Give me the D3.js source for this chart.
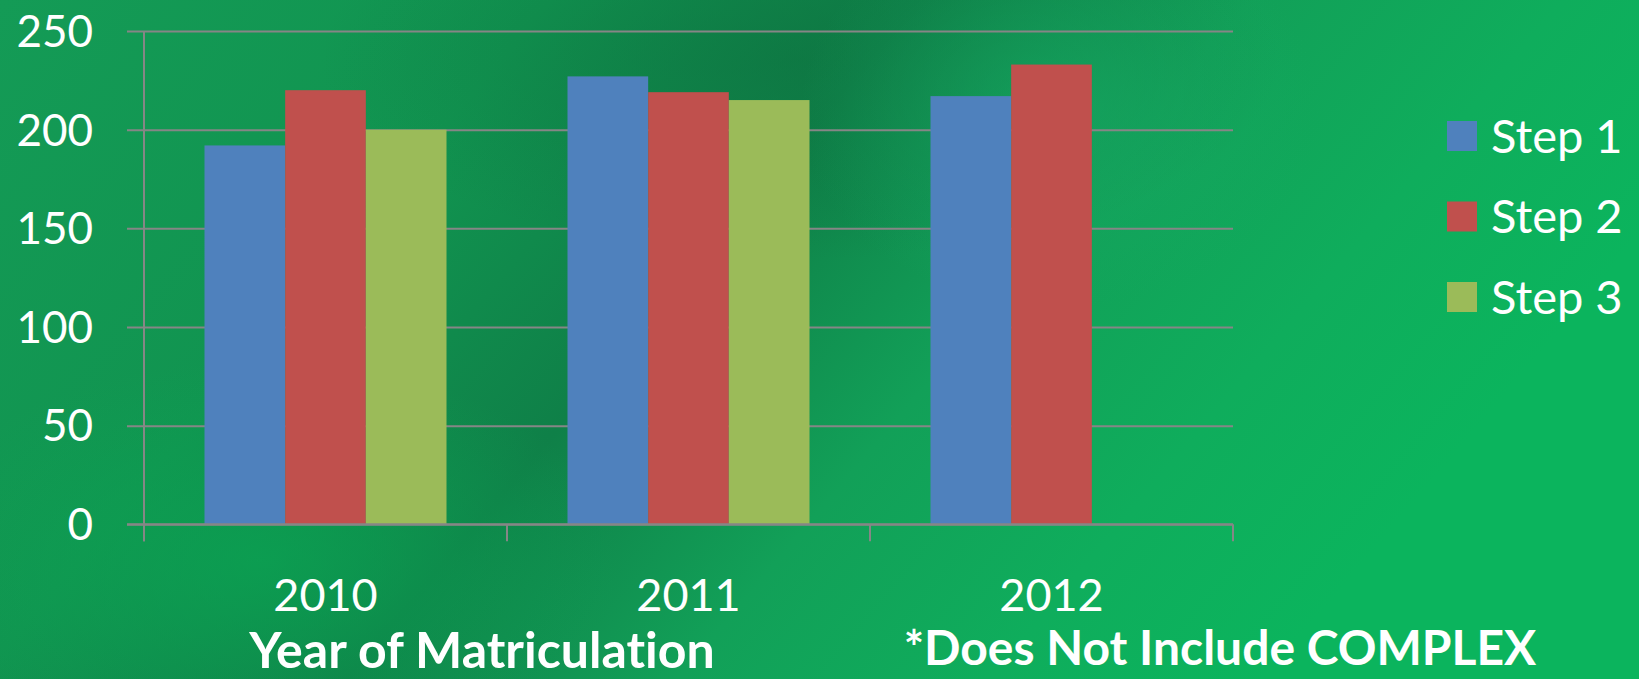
<!DOCTYPE html>
<html><head><meta charset="utf-8">
<script src="https://cdn.jsdelivr.net/npm/d3@7"></script>
<style>
html,body{margin:0;padding:0;overflow:hidden;background:#0f9a52;}
svg{display:block;}
text{font-family:Lato,"Open Sans",sans-serif;fill:#fff;font-variant-ligatures:none;}
</style></head>
<body>
<svg id="chart" width="1639" height="679"></svg>
<script>
const categories = ["2010", "2011", "2012"];
const seriesNames = ["Step 1", "Step 2", "Step 3"];
const step1 = [192, 227, 217];
const step2 = [220, 219, 233];
const step3 = [200, 215, null];
const yTicks = [0, 50, 100, 150, 200, 250];
const colors = ["#4f81bd", "#c0504d", "#9bbb59"];
const xTitle = "Year of Matriculation";
const note = "*Does Not Include COMPLEX";

const values = [step1, step2, step3];
const W = 1639, H = 679;
const svg = d3.select("#chart");
const defs = svg.append("defs");

// background
const lg = defs.append("linearGradient").attr("id","bgLin").attr("x1","0").attr("y1","0").attr("x2","1").attr("y2","0.35");
[["0%","#149b56"],["30%","#119450"],["50%","#0f8048"],["68%","#12a058"],["85%","#0fad5c"],["100%","#0bb45d"]]
  .forEach(([o,c])=>lg.append("stop").attr("offset",o).attr("stop-color",c));
svg.append("rect").attr("width",W).attr("height",H).attr("fill","url(#bgLin)");
const rg = defs.append("radialGradient").attr("id","bgDark").attr("cx","0.5").attr("cy","0.5").attr("r","0.5");
rg.append("stop").attr("offset","0%").attr("stop-color","#0d7240").attr("stop-opacity",0.6);
rg.append("stop").attr("offset","100%").attr("stop-color","#0d7240").attr("stop-opacity",0);
svg.append("ellipse").attr("cx",800).attr("cy",60).attr("rx",480).attr("ry",200).attr("fill","url(#bgDark)");
const rg2 = defs.append("radialGradient").attr("id","bgLight").attr("cx","0.5").attr("cy","0.5").attr("r","0.5");
rg2.append("stop").attr("offset","0%").attr("stop-color","#16a862").attr("stop-opacity",0.7);
rg2.append("stop").attr("offset","100%").attr("stop-color","#16a862").attr("stop-opacity",0);
svg.append("ellipse").attr("cx",1060).attr("cy",110).attr("rx",260).attr("ry",200).attr("fill","url(#bgLight)");
const rg3 = defs.append("radialGradient").attr("id","bgLeft").attr("cx","0.5").attr("cy","0.5").attr("r","0.5");
rg3.append("stop").attr("offset","0%").attr("stop-color","#0aa553").attr("stop-opacity",0.7);
rg3.append("stop").attr("offset","100%").attr("stop-color","#0aa553").attr("stop-opacity",0);
svg.append("ellipse").attr("cx",260).attr("cy",560).attr("rx",360).attr("ry",200).attr("fill","url(#bgLeft)");

const x0 = 144, x1 = 1233, y0 = 524.3, y1 = 31;
const x = d3.scaleBand().domain(categories).range([x0, x1]).padding(0);
const xs = d3.scaleBand().domain(seriesNames).range([0, x.bandwidth()]).paddingInner(0).paddingOuter(0.75);
const y = d3.scaleLinear().domain([0, 250]).range([y0, y1]);

const gridColor = "#868686";
// gridlines with outside tick
const yAxis = d3.axisLeft(y).tickValues(yTicks).tickSize(-(x1 - x0)).tickFormat("").tickSizeOuter(0);
const ya = svg.append("g").attr("transform",`translate(${x0},0)`).call(yAxis);
ya.select(".domain").remove();
ya.selectAll(".tick line").attr("stroke",gridColor).attr("stroke-width",2).attr("x1",-17);

// bars
const gCat = svg.append("g").selectAll("g").data(categories).join("g")
  .attr("transform", d => `translate(${x(d)},0)`);
gCat.selectAll("rect")
  .data((c, i) => seriesNames.map((s, k) => ({s, k, v: values[k][i]})).filter(d => d.v != null))
  .join("rect")
  .attr("x", d => xs(d.s))
  .attr("width", xs.bandwidth())
  .attr("y", d => y(d.v))
  .attr("height", d => y(0) - y(d.v))
  .attr("fill", d => colors[d.k]);

// y axis line
svg.append("line").attr("x1",x0).attr("x2",x0).attr("y1",y1).attr("y2",y0+17)
  .attr("stroke",gridColor).attr("stroke-width",2);
// x axis
const xa = svg.append("g").attr("transform",`translate(0,${y0})`)
  .call(d3.axisBottom(x).tickSize(0).tickFormat(""));
xa.select(".domain").attr("stroke",gridColor).attr("stroke-width",2).attr("d",`M${x0-17},0H${x1}`);
const bounds = [x0, ...categories.map(c => x(c) + x.bandwidth())];
svg.append("g").selectAll("line").data(bounds).join("line")
  .attr("x1", d => d).attr("x2", d => d).attr("y1", y0).attr("y2", y0 + 17)
  .attr("stroke", gridColor).attr("stroke-width", 2);

// y labels
svg.append("g").selectAll("text").data(yTicks).join("text")
  .attr("x", 93).attr("y", d => y(d)).attr("dy","0.36em")
  .attr("text-anchor","end").attr("font-size",44).text(d => d);
// x labels
svg.append("g").selectAll("text").data(categories).join("text")
  .attr("x", d => x(d) + x.bandwidth()/2).attr("y", 611)
  .attr("text-anchor","middle").attr("font-size",45).text(d => d);

svg.append("text").attr("x",482).attr("y",668).attr("text-anchor","middle")
  .attr("font-size",50).attr("font-weight","bold").text(xTitle);
svg.append("text").attr("x",1220).attr("y",665).attr("text-anchor","middle")
  .attr("font-size",48).attr("font-weight","bold").text(note);

// legend
const leg = svg.append("g").selectAll("g").data(seriesNames).join("g")
  .attr("transform",(d,i)=>`translate(1447,${121 + i*80.5})`);
leg.append("rect").attr("width",30).attr("height",30).attr("fill",(d,i)=>colors[i]);
leg.append("text").attr("x",44).attr("y",15).attr("dy","0.36em").attr("font-size",47).text(d=>d);
</script>
</body></html>
